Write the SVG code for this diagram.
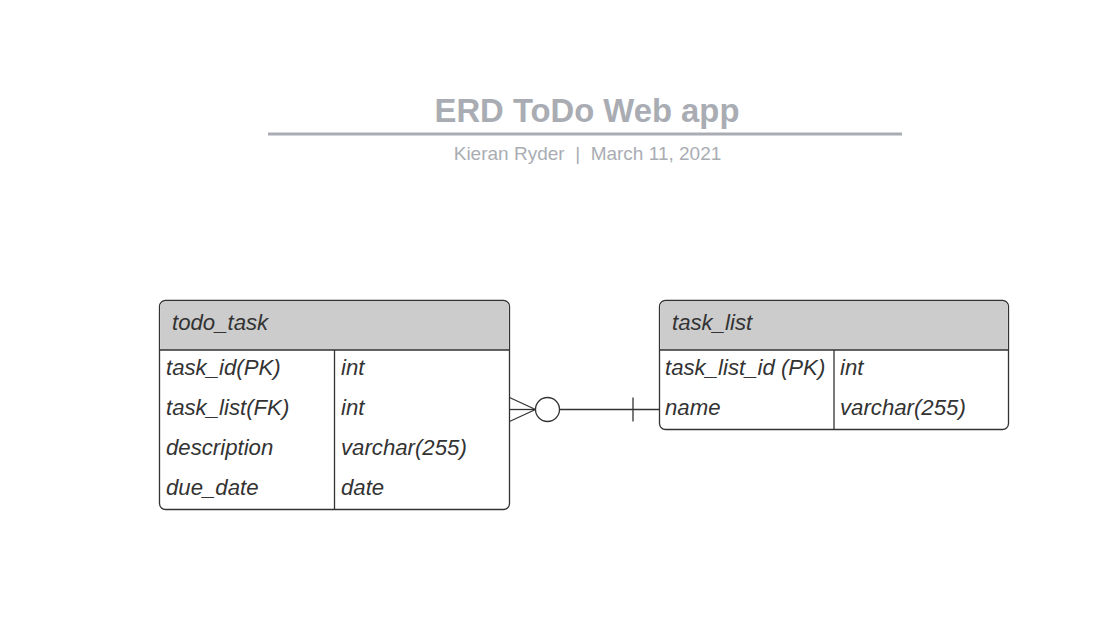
<svg xmlns="http://www.w3.org/2000/svg" width="1112" height="625" viewBox="0 0 1112 625">
<style>
.t{font-family:"Liberation Sans",Arial,sans-serif;font-style:italic;font-size:22.2px;fill:#333}
.box{fill:#fff;stroke:#333;stroke-width:1.3}
.hdr{fill:#ccc}
.ln{stroke:#333;stroke-width:1.3;fill:none}
.title{font-family:"Liberation Sans",Arial,sans-serif;font-weight:bold;font-size:32.8px;fill:#a9adb3}
.sub{font-family:"Liberation Sans",Arial,sans-serif;font-size:19px;fill:#a9adb3;white-space:pre}
</style>
<rect width="1112" height="625" fill="#fff"/>
<g id="title">
<text class="title" x="587" y="122" text-anchor="middle">ERD ToDo Web app</text>
<line x1="268" y1="134" x2="902" y2="134" stroke="#a9adb3" stroke-width="3"/>
<text class="sub" x="587.5" y="160" text-anchor="middle" xml:space="preserve">Kieran Ryder  |  March 11, 2021</text>
</g>
<g id="todo_task">
<rect class="box" x="159.5" y="300.5" width="350" height="209" rx="6"/>
<path class="hdr" d="M165.5,301.2 H503.5 A5.3,5.3 0 0 1 508.8,306.5 V350 H160.2 V306.5 A5.3,5.3 0 0 1 165.5,301.2 Z"/>
<line class="ln" x1="159.5" y1="350" x2="509.5" y2="350"/>
<line class="ln" x1="334.5" y1="350" x2="334.5" y2="509.5"/>
<text class="t" x="172" y="330">todo_task</text>
<text class="t" x="166" y="375">task_id(PK)</text>
<text class="t" x="341" y="375">int</text>
<text class="t" x="166" y="415">task_list(FK)</text>
<text class="t" x="341" y="415">int</text>
<text class="t" x="166" y="455">description</text>
<text class="t" x="341" y="455">varchar(255)</text>
<text class="t" x="166" y="495">due_date</text>
<text class="t" x="341" y="495">date</text>
</g>
<g id="task_list">
<rect class="box" x="659.5" y="300.5" width="349" height="129" rx="6"/>
<path class="hdr" d="M665.5,301.2 H1002.5 A5.3,5.3 0 0 1 1007.8,306.5 V350 H660.2 V306.5 A5.3,5.3 0 0 1 665.5,301.2 Z"/>
<line class="ln" x1="659.5" y1="350" x2="1008.5" y2="350"/>
<line class="ln" x1="834" y1="350" x2="834" y2="429.5"/>
<text class="t" x="672" y="330">task_list</text>
<text class="t" x="665" y="375">task_list_id (PK)</text>
<text class="t" x="840" y="375">int</text>
<text class="t" x="665" y="415">name</text>
<text class="t" x="840" y="415">varchar(255)</text>
</g>
<g id="connectors">
<line class="ln" x1="509.5" y1="409.5" x2="535.5" y2="409.5"/>
<line class="ln" x1="509.5" y1="397.5" x2="535.5" y2="409.5"/>
<line class="ln" x1="509.5" y1="421.5" x2="535.5" y2="409.5"/>
<circle class="ln" cx="547.5" cy="409.5" r="12"/>
<line class="ln" x1="559.5" y1="409.5" x2="659.5" y2="409.5"/>
<line class="ln" x1="633" y1="397.5" x2="633" y2="421.5"/>
</g>
</svg>
